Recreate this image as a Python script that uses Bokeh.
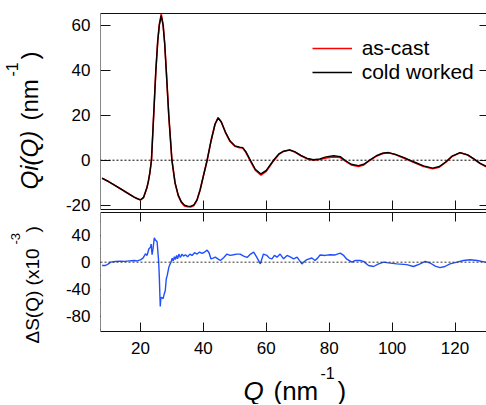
import math
from bokeh.plotting import figure
from bokeh.models import (Range1d, LinearAxis, SingleIntervalTicker, FixedTicker, Label, Span,
                          Legend, LegendItem, CustomJSTickFormatter)
from bokeh.layouts import column, row
from bokeh.embed import file_html
from bokeh.resources import INLINE

# ---------------- data ----------------
q_top = [7.8, 10, 12, 14, 16, 18, 19, 20, 21, 22, 22.5, 23, 23.5, 24.2, 24.9, 25.5, 26.0,
         26.6, 27.2, 27.7, 28.2, 29.0, 30.0, 31, 32, 33, 34, 35, 35.9, 37, 38, 39, 40, 41.2,
         42.5, 43.7, 44.7, 45.7, 47, 48.5, 50, 51.5, 52.5, 53.5, 55, 56.5, 58.3, 60, 62.3,
         64, 65.5, 67.4, 69, 71, 73, 75, 77, 79, 81.4, 83.5, 85, 87, 89.3, 91, 93, 95, 97,
         98.8, 101, 104, 107, 110, 112.9, 115, 117, 119, 121.6, 124, 126, 128, 130]

qi_cold_worked = [-8.0, -9.6, -11.3, -13.0, -14.7, -16.4, -17.1, -17.6, -16.5, -12.5, -9.5,
                  -5.5, 0, 20, 40, 53, 60, 64.3, 60, 52, 40, 20, 0, -10, -15.5, -18.5, -20,
                  -20.4, -20.5, -19.8, -17.5, -13, -7, 0, 9, 16, 18.8, 17, 12.5, 8.5, 6.4, 5.8,
                  5.6, 3.8, -0.2, -4, -6.1, -4.5, 0, 2.8, 4.0, 4.6, 3.8, 2.2, 0.8, 0.2, 0.6,
                  1.5, 2.0, 1.6, 0, -1.8, -2.4, -1.8, 0.2, 2.0, 3.1, 3.4, 2.6, 1.0, -0.8,
                  -2.5, -3.5, -2.8, -0.8, 1.8, 3.4, 2.4, 0.6, -1.4, -2.8]

qi_as_cast = [-8.0, -9.6, -11.3, -13.0, -14.7, -16.4, -17.1, -17.7, -16.6, -12.5, -9.5,
              -5.5, 0, 20, 40, 53.2, 60.4, 64.9, 60.3, 52, 40, 20, 0, -10.2, -15.7, -18.8,
              -20.3, -20.7, -20.8, -20.1, -17.7, -13, -7, 0, 9, 16, 18.9, 17, 12.4, 8.3,
              6.2, 5.6, 5.4, 3.5, -0.5, -4.4, -6.6, -4.9, -0.3, 2.6, 3.9, 4.5, 3.7, 2.0,
              0.6, 0.0, 0.3, 1.0, 1.4, 1.2, -0.3, -2.1, -2.8, -2.1, 0.0, 1.8, 3.0, 3.3,
              2.5, 0.8, -1.0, -2.8, -3.8, -3.1, -1.0, 1.6, 3.3, 2.3, 0.5, -1.5, -2.9]

q_diff = [7.8, 8.9, 9.8, 10.5, 12, 13.5, 15, 16.5, 18, 19, 20, 20.8, 21.6, 22.1, 22.7, 23.2,
          23.4, 23.7, 24.0, 24.4, 24.7, 25.0, 25.3, 25.6, 25.8, 26.0, 26.15, 26.3, 26.5,
          26.9, 27.2, 27.5, 27.9, 28.2, 28.5, 29.0, 29.3, 29.7, 30.1, 30.4, 30.8, 31.1,
          31.5, 31.8, 32.2, 32.7, 33.2, 33.7, 34.3, 35, 35.7, 36.4, 37.2, 38, 38.8, 39.6,
          40.4, 41.2, 41.8, 42.4, 43.1, 43.8, 44.6, 45.4, 46.5, 47.5, 48.5, 49.6, 50.6,
          51.7, 52.8, 53.9, 55, 56, 57, 58.1, 59.1, 60.2, 61, 61.8, 62.6, 63.4, 64.4, 65.5,
          66.6, 67.6, 68.7, 69.8, 71.3, 72.1, 72.9, 74.5, 75.5, 76.3, 77.1, 78.7, 80.3,
          81.9, 83.5, 84.6, 85.6, 87.2, 88.3, 89.8, 90.9, 92.5, 94.1, 95.7, 97.3, 98.8,
          101.5, 104.6, 106.8, 108.9, 110.5, 112.1, 113.7, 115.2, 116.8, 118.4, 120.6,
          122.7, 124.8, 127, 129.6, 130]

ds_diff = [-4.9, -4.9, -2.5, 0, 1.0, 1.5, 1.2, 2.0, 2.5, 2.0, 3.5, 6, 12.4, 10, 19.8, 22,
           27, 11, 20, 36, 33, 32, 30, 12, 0, -22, -45, -65.6, -52, -53, -54, -48, -42, -25,
           -20, -8, -4, 0, 6, 2, 8, 4, 10, 5, 12, 7, 12, 9, 11, 8, 12, 10, 14, 12, 15, 13,
           15, 18, 14, 5, 6, 7.4, 5, 2.5, 7, 12, 10, 11, 12, 12, 9, 7, 12, 15, 7, -2.5, 12,
           10, 6, 5, 10, 7.4, 12, 5, 10, 8, 5, 7.5, -2.5, 1, 3.7, 6.2, 2.5, 6, 10.7, 10, 11,
           10.7, 13.4, 10, 4.4, 0, 2.5, 2.5, 1.2, -4.9, -6.4, -2.5, 0, -1, -2.5, -3.7, -6.4,
           -2.5, 1.2, -1.2, -5.9, -8, -6.4, -2.5, 0, 2.5, 3.7, 2.5, 0, -0.5]

x_ticks_interval = 20
top_y_ticks = [-20, 0, 20, 40, 60]
bot_y_ticks = [-80, -40, 0, 40]

FONT = "Liberation Sans"
AX = "#111111"
WM = 440   # main column width
WL = 46    # left label strip

# ----- panel geometry (both panels share one frame, 318 px tall) -----
FRAME_H = 318.0
TOP_PX, GAP_PX, BOT_PX = 196.0, 3.0, 119.0
TOP_LO, TOP_HI = -21.9, 65.2          # visible range of the Qi(Q) panel
BOT_LO, BOT_HI = -102.7, 73.6         # visible range of the dS(Q) panel
u_top = (TOP_HI - TOP_LO) / TOP_PX
u_bot = (BOT_HI - BOT_LO) / BOT_PX
main_y = Range1d(TOP_LO - (BOT_PX + GAP_PX) * u_top, TOP_HI)
diff_y = Range1d(BOT_LO, BOT_LO + FRAME_H * u_bot)
x_rng = Range1d(7.3, 130)
X0 = 7.3


def d_to_main(v):
    return main_y.start + (v - diff_y.start) * (main_y.end - main_y.start) / (diff_y.end - diff_y.start)


def clean(p):
    p.outline_line_color = None
    p.background_fill_color = "white"
    p.border_fill_color = "white"
    p.grid.grid_line_color = None


def tick_axis(ticker, tick_in=0, tick_out=0, line=True, **kw):
    return LinearAxis(ticker=ticker, major_tick_in=tick_in, major_tick_out=tick_out,
                      minor_tick_in=0, minor_tick_out=kw.pop("minor_out", 0),
                      major_label_text_font_size="0px", major_label_standoff=0,
                      formatter=CustomJSTickFormatter(code="return ''"),
                      axis_line_color=AX if line else None, major_tick_line_color=AX,
                      minor_tick_line_color=AX, axis_line_width=1, **kw)


m = figure(width=WM, height=363, x_range=x_rng, y_range=main_y,
           output_backend="svg", toolbar_location=None,
           x_axis_location=None, y_axis_location=None,
           min_border_left=54, min_border_right=0, min_border_top=13, min_border_bottom=32)
m.extra_y_ranges = {"d": diff_y}
clean(m)

# left tick labels for both panels (one label-only axis)
lab_ticks = top_y_ticks + [d_to_main(v) for v in bot_y_ticks]
cut = TOP_LO - 1.0
fmt = CustomJSTickFormatter(args=dict(cut=cut, m0=main_y.start, m1=main_y.end,
                                      d0=diff_y.start, d1=diff_y.end),
                            code="""
let v = tick;
if (tick < cut) { v = d0 + (tick - m0) * (d1 - d0) / (m1 - m0); }
return String(Math.round(v));
""")
lab_axis = LinearAxis(ticker=FixedTicker(ticks=lab_ticks, minor_ticks=[]), formatter=fmt,
                      major_tick_in=0, major_tick_out=0, minor_tick_in=0, minor_tick_out=0,
                      axis_line_color=None, major_label_standoff=10,
                      major_label_text_font=FONT, major_label_text_font_size="17px",
                      major_label_text_color="black")
m.add_layout(lab_axis, "left")
# tick-only y axes
m.add_layout(tick_axis(SingleIntervalTicker(interval=20, num_minor_ticks=0), tick_in=10,
                       bounds=(TOP_LO, TOP_HI), fixed_location=X0), "left")
m.add_layout(tick_axis(SingleIntervalTicker(interval=40, num_minor_ticks=2), tick_out=8,
                       minor_out=4, y_range_name="d", bounds=(BOT_LO, BOT_HI),
                       fixed_location=X0), "left")
m.add_layout(tick_axis(SingleIntervalTicker(interval=20, num_minor_ticks=0), tick_in=7,
                       line=False, bounds=(TOP_LO, TOP_HI)), "right")

# x axes: bottom (labelled), top border, panel separators
bx = LinearAxis(ticker=SingleIntervalTicker(interval=x_ticks_interval, num_minor_ticks=0),
                major_tick_in=9, major_tick_out=0, minor_tick_in=0, minor_tick_out=0,
                major_label_standoff=10, major_label_text_font=FONT,
                major_label_text_font_size="17px", major_label_text_color="black",
                axis_line_color=AX, major_tick_line_color=AX)
m.add_layout(bx, "below")
m.add_layout(tick_axis(SingleIntervalTicker(interval=x_ticks_interval, num_minor_ticks=0)), "above")
m.add_layout(tick_axis(SingleIntervalTicker(interval=x_ticks_interval, num_minor_ticks=0),
                       tick_in=9, fixed_location=TOP_LO), "below")
m.add_layout(tick_axis(SingleIntervalTicker(interval=x_ticks_interval, num_minor_ticks=0),
                       tick_in=9, y_range_name="d", fixed_location=BOT_HI), "above")

# zero lines
m.add_layout(Span(location=0, dimension="width", line_color="black",
                  line_dash="2 2", line_width=1))
m.add_layout(Span(location=0, dimension="width", line_color="#333333", y_range_name="d",
                  line_dash="2 2", line_width=1))

r_red = m.line(q_top, qi_as_cast, line_color="#ff0000", line_width=1.6)
r_blk = m.line(q_top, qi_cold_worked, line_color="black", line_width=1.4)
m.line(q_diff, ds_diff, line_color="#1f4fff", line_width=1.4, y_range_name="d")

legend = Legend(items=[LegendItem(label="as-cast", renderers=[r_red]),
                       LegendItem(label="cold worked", renderers=[r_blk])],
                location=(211.7, 247.3), glyph_width=40, glyph_height=20, label_height=24,
                label_standoff=10, padding=0, spacing=0, margin=0,
                border_line_color=None, background_fill_alpha=0,
                label_text_font=FONT, label_text_font_size="21px", label_text_color="black")
m.add_layout(legend)


# ---------------- label strips ----------------
def label_fig(w, h, left_border=0):
    f = figure(width=w, height=h, output_backend="svg", toolbar_location=None,
               x_axis_location=None, y_axis_location=None,
               min_border_left=left_border, min_border_right=0,
               min_border_top=0, min_border_bottom=0)
    clean(f)
    return f


def lab(p, text, x, y, size, angle=0.0, style="normal"):
    p.add_layout(Label(x=x, y=y, x_units="screen", y_units="screen", text=text,
                       text_font=FONT, text_font_size=size, text_font_style=style,
                       text_color="black", angle=angle, text_align="left",
                       text_baseline="alphabetic"))


A = math.pi / 2
left = label_fig(WL, 404)
lab(left, "Qi(Q)", 28.5, 215, "24px", A, "italic")
lab(left, "(nm", 28.5, 284, "24px", A)
lab(left, "-1", 11.5, 328, "16px", A)
lab(left, ")", 28.5, 345, "24px", A)

lab(left, "\u0394S(Q) (x10", 32, 61, "19px", A)
lab(left, "-3", 15, 160, "13px", A)
lab(left, ")", 32, 172, "19px", A)

xlab = label_fig(WM, 41, left_border=54)
lab(xlab, "Q", 143, 14, "26px", 0.0, "italic")
lab(xlab, "(nm", 173, 14, "26px")
lab(xlab, "-1", 220, 32, "16px")
lab(xlab, ")", 237, 14, "26px")

layout = row(left, column(m, xlab, spacing=0), spacing=0)
open("out.html", "w").write(file_html(layout, INLINE))
